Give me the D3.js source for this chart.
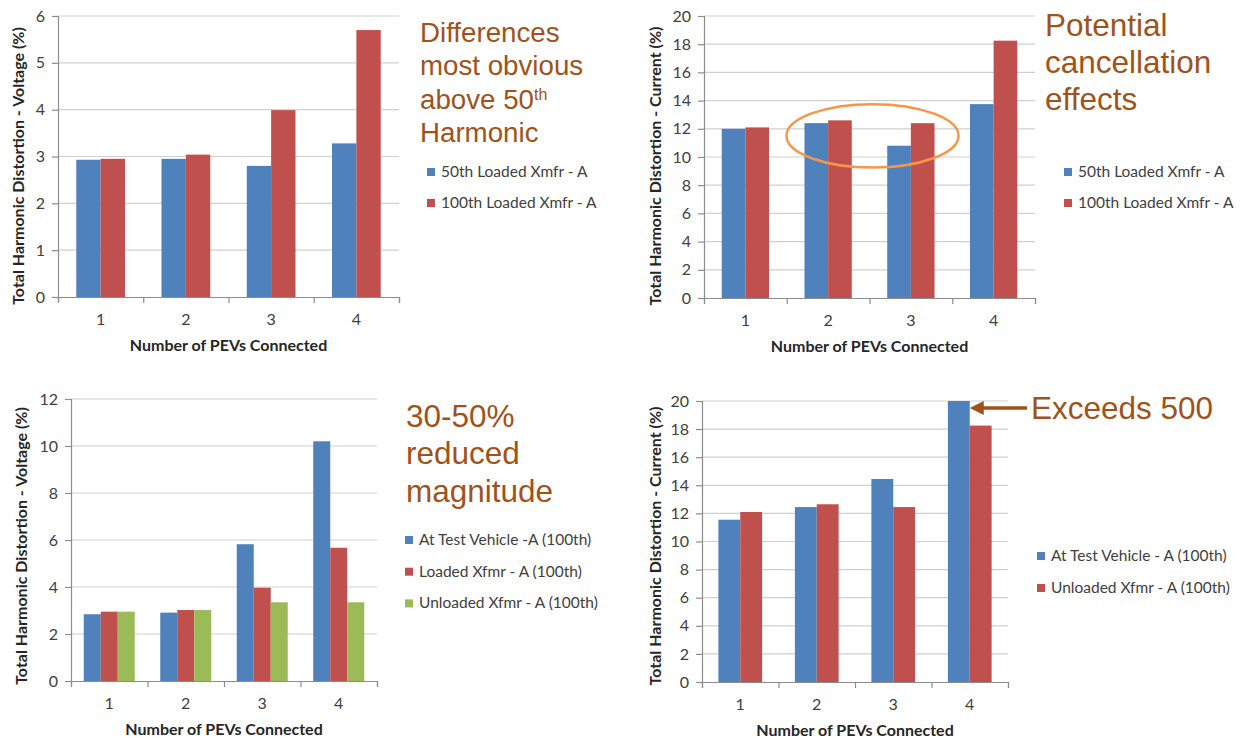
<!DOCTYPE html>
<html>
<head>
<meta charset="utf-8">
<script src="https://cdn.jsdelivr.net/npm/d3@7"></script>
<style>
  body { margin: 0; background: #fff; }
  svg { display: block; }
</style>
</head>
<body>
<div id="chart"></div>
<script>
// Harmonic distortion - four small Excel style bar charts on one slide

// ---- data ----
const categories = ["1", "2", "3", "4"];

// top left: voltage THD
const p1Series = ["50th Loaded Xmfr - A", "100th Loaded Xmfr - A"];
const p1Loaded50th = [2.93, 2.95, 2.80, 3.28];
const p1Loaded100th = [2.95, 3.04, 3.99, 5.70];
const p1Ticks = [0, 1, 2, 3, 4, 5, 6];

// top right: current THD
const p2Series = ["50th Loaded Xmfr - A", "100th Loaded Xmfr - A"];
const p2Loaded50th = [12.0, 12.4, 10.8, 13.75];
const p2Loaded100th = [12.1, 12.6, 12.4, 18.25];
const p2Ticks = [0, 2, 4, 6, 8, 10, 12, 14, 16, 18, 20];

// bottom left: voltage THD, 100th
const p3Series = ["At Test Vehicle -A (100th)", "Loaded Xfmr - A (100th)", "Unloaded Xfmr - A (100th)"];
const p3TestVehicle = [2.84, 2.91, 5.82, 10.2];
const p3Loaded = [2.95, 3.02, 3.97, 5.67];
const p3Unloaded = [2.95, 3.02, 3.35, 3.35];
const p3Ticks = [0, 2, 4, 6, 8, 10, 12];

// bottom right: current THD, 100th
const p4Series = ["At Test Vehicle - A (100th)", "Unloaded Xfmr - A (100th)"];
const p4TestVehicle = [11.55, 12.45, 14.45, 20];
const p4Unloaded = [12.1, 12.65, 12.45, 18.25];
const p4Ticks = [0, 2, 4, 6, 8, 10, 12, 14, 16, 18, 20];

const colors = ["#4f81bd", "#c0504d", "#9bbb59"];
const noteColor = "#a0521a";
const labelFont = "Lato, 'Open Sans', sans-serif";
const noteFont = "'Liberation Sans', Arial, sans-serif";

const W = 1244, H = 738;

const svg = d3.select("#chart")
  .append("svg")
  .attr("width", W)
  .attr("height", H);

// draws one panel, returns its scales for annotations
function drawPanel(cfg) {
  const g = svg.append("g");
  const ticks = cfg.ticks;

  const x = d3.scaleBand()
    .domain(categories)
    .range([cfg.left, cfg.right]);

  // excel gap width 150%
  const xs = d3.scaleBand()
    .domain(cfg.series)
    .range([0, x.bandwidth()])
    .paddingInner(0)
    .paddingOuter(0.75);

  const y = d3.scaleLinear()
    .domain([0, d3.max(ticks)])
    .range([cfg.bottom, cfg.top])
    .clamp(true);

  // gridlines
  g.append("g")
    .selectAll("line")
    .data(ticks.slice(1))
    .join("line")
    .attr("x1", cfg.left)
    .attr("x2", cfg.right)
    .attr("y1", d => y(d))
    .attr("y2", d => y(d))
    .attr("stroke", "#d0d0d0")
    .attr("stroke-width", 1.2);

  // bars
  const rows = categories.map((c, i) => ({cat: c, vals: cfg.values.map(v => v[i])}));
  g.append("g")
    .selectAll("g")
    .data(rows)
    .join("g")
    .attr("transform", d => `translate(${x(d.cat)},0)`)
    .selectAll("rect")
    .data(d => d.vals.map((v, j) => ({key: cfg.series[j], j: j, v: v})))
    .join("rect")
    .attr("x", d => xs(d.key))
    .attr("width", xs.bandwidth())
    .attr("y", d => y(d.v))
    .attr("height", d => y(0) - y(d.v))
    .attr("fill", d => colors[d.j]);

  // y axis
  const yAxis = g.append("g")
    .attr("transform", `translate(${cfg.left},0)`)
    .call(d3.axisLeft(y).tickValues(ticks).tickFormat(d3.format("d")).tickSize(6).tickPadding(7));
  yAxis.select(".domain").attr("stroke", "#8c8c8c").attr("stroke-width", 1.2);
  yAxis.selectAll(".tick line").attr("stroke", "#8c8c8c").attr("stroke-width", 1.2);
  yAxis.selectAll("text")
    .style("font-family", labelFont)
    .style("font-size", "16px")
    .attr("fill", "#404040");

  // x axis: ticks at category boundaries
  const xb = d3.scaleLinear().domain([0, categories.length]).range([cfg.left, cfg.right]);
  const xAxis = g.append("g")
    .attr("transform", `translate(0,${cfg.bottom})`)
    .call(d3.axisBottom(xb).tickValues(d3.range(categories.length + 1)).tickSize(6).tickFormat(""));
  xAxis.select(".domain").attr("stroke", "#8c8c8c").attr("stroke-width", 1.2);
  xAxis.selectAll(".tick line").attr("stroke", "#8c8c8c").attr("stroke-width", 1.2);

  g.append("g")
    .selectAll("text")
    .data(categories)
    .join("text")
    .attr("x", d => x(d) + x.bandwidth() / 2)
    .attr("y", cfg.bottom + 28)
    .attr("text-anchor", "middle")
    .style("font-family", labelFont)
    .style("font-size", "16px")
    .attr("fill", "#404040")
    .text(d => d);

  // axis titles
  g.append("text")
    .attr("x", (cfg.left + cfg.right) / 2)
    .attr("y", cfg.bottom + 54)
    .attr("text-anchor", "middle")
    .style("font-family", labelFont)
    .style("font-size", "16px")
    .style("font-weight", "bold")
    .attr("fill", "#262626")
    .text("Number of PEVs Connected");

  g.append("text")
    .attr("transform", `translate(${cfg.titleX},${cfg.titleY}) rotate(-90)`)
    .attr("text-anchor", "middle")
    .style("font-family", labelFont)
    .style("font-size", "16px")
    .style("font-weight", "bold")
    .attr("fill", "#262626")
    .text(cfg.yTitle);

  // legend
  const leg = g.append("g")
    .selectAll("g")
    .data(cfg.series)
    .join("g")
    .attr("transform", (d, i) => `translate(${cfg.legX},${cfg.legY + i * cfg.legStep})`);
  leg.append("rect")
    .attr("x", 0)
    .attr("y", -9)
    .attr("width", 8)
    .attr("height", 8)
    .attr("fill", (d, i) => colors[i]);
  leg.append("text")
    .attr("x", 14)
    .attr("y", 0)
    .style("font-family", labelFont)
    .style("font-size", "15.5px")
    .attr("fill", "#404040")
    .text(d => d);

  return {x: x, xb: xb, y: y, g: g};
}

function note(lines, xPos, y0, step, size) {
  const t = svg.append("text")
    .style("font-family", noteFont)
    .style("font-size", size + "px")
    .attr("fill", noteColor);
  lines.forEach((l, i) => {
    t.append("tspan").attr("x", xPos).attr("y", y0 + i * step).text(l);
  });
  return t;
}

// ---- panel 1 ----
drawPanel({
  left: 58, right: 399, top: 16, bottom: 297,
  series: p1Series, values: [p1Loaded50th, p1Loaded100th], ticks: p1Ticks,
  yTitle: "Total Harmonic Distortion - Voltage (%)", titleX: 24, titleY: 166,
  legX: 427, legY: 177, legStep: 31
});
const n1 = note(["Differences", "most obvious"], 420, 42, 33.3, 27.7);
n1.append("tspan").attr("x", 420).attr("y", 108.6).text("above 50");
n1.append("tspan").attr("dy", -9).style("font-size", "16px").text("th");
n1.append("tspan").attr("x", 420).attr("y", 141.9).text("Harmonic");

// ---- panel 2 ----
const p2 = drawPanel({
  left: 704, right: 1035, top: 16, bottom: 298,
  series: p2Series, values: [p2Loaded50th, p2Loaded100th], ticks: p2Ticks,
  yTitle: "Total Harmonic Distortion - Current (%)", titleX: 661, titleY: 166,
  legX: 1064, legY: 177, legStep: 31
});
p2.g.append("ellipse")
  .attr("cx", p2.xb(2) + 3)
  .attr("cy", p2.y(11.5))
  .attr("rx", p2.x.bandwidth() * 1.04)
  .attr("ry", p2.y(0) - p2.y(2.25))
  .attr("fill", "none")
  .attr("stroke", "#f79646")
  .attr("stroke-width", 2.5);
note(["Potential", "cancellation", "effects"], 1045, 36, 37, 31.5);

// ---- panel 3 ----
drawPanel({
  left: 71, right: 377, top: 399, bottom: 681,
  series: p3Series, values: [p3TestVehicle, p3Loaded, p3Unloaded], ticks: p3Ticks,
  yTitle: "Total Harmonic Distortion - Voltage (%)", titleX: 27, titleY: 546,
  legX: 405, legY: 545, legStep: 31.7
});
note(["30-50%", "reduced", "magnitude"], 406, 427, 37.3, 31.5);

// ---- panel 4 ----
const p4 = drawPanel({
  left: 702, right: 1008, top: 401, bottom: 682,
  series: p4Series, values: [p4TestVehicle, p4Unloaded], ticks: p4Ticks,
  yTitle: "Total Harmonic Distortion - Current (%)", titleX: 661, titleY: 546,
  legX: 1037, legY: 561, legStep: 32
});
const arrowY = p4.y(19.5);
const arrowTip = p4.xb(3) + p4.x.bandwidth() / 2;
p4.g.append("line")
  .attr("x1", arrowTip + 10)
  .attr("x2", 1027)
  .attr("y1", arrowY)
  .attr("y2", arrowY)
  .attr("stroke", noteColor)
  .attr("stroke-width", 3.5);
p4.g.append("path")
  .attr("d", `M${arrowTip},${arrowY} l14,-7 l0,14 z`)
  .attr("fill", noteColor);
note(["Exceeds 500"], 1031, 419, 0, 31.5);
</script>
</body>
</html>
